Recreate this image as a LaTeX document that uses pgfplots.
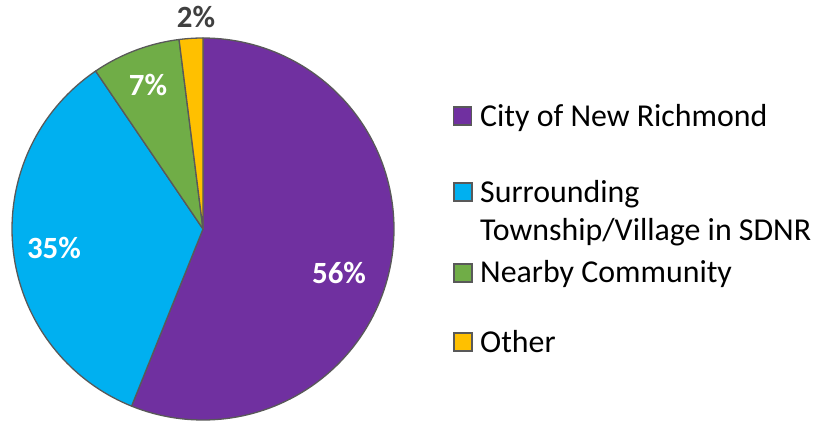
\documentclass[border=0pt]{standalone}
\usepackage{pgfplots}
\pgfplotsset{compat=1.18}
\usepackage{fontspec}
\setmainfont{Carlito}
\definecolor{cpurple}{HTML}{7030A0}
\definecolor{ccyan}{HTML}{00B0F0}
\definecolor{cgreen}{HTML}{70AD47}
\definecolor{cyellow}{HTML}{FFC000}
\definecolor{cborder}{HTML}{595959}
\definecolor{clabel}{HTML}{404040}
% pie values (percent)
\def\va{56.1}\def\vb{34.4}\def\vc{7.5}\def\vd{2.0}
\def\cx{203}\def\cy{229}\def\rr{191}
\pgfmathsetmacro\aA{90}
\pgfmathsetmacro\aB{\aA-3.6*\va}
\pgfmathsetmacro\aC{\aB-3.6*\vb}
\pgfmathsetmacro\aD{\aC-3.6*\vc}
\pgfmathsetmacro\aE{\aD-3.6*\vd}
\begin{document}
\begin{tikzpicture}
\begin{axis}[
  scale only axis, width=822bp, height=423bp,
  xmin=0, xmax=822, ymin=0, ymax=423, y dir=reverse,
  hide axis, clip=false,
  every axis plot/.append style={line width=1.3bp, draw=cborder, line join=round},
]
\path (rel axis cs:0,0) rectangle (rel axis cs:1,1);
\addplot[fill=cpurple, domain=\aB:\aA, samples=120, variable=\t]
  ({\cx+\rr*cos(\t)}, {\cy-\rr*sin(\t)}) -- (axis cs:\cx,\cy) -- cycle;
\addplot[fill=ccyan, domain=\aC:\aB, samples=80, variable=\t]
  ({\cx+\rr*cos(\t)}, {\cy-\rr*sin(\t)}) -- (axis cs:\cx,\cy) -- cycle;
\addplot[fill=cgreen, domain=\aD:\aC, samples=20, variable=\t]
  ({\cx+\rr*cos(\t)}, {\cy-\rr*sin(\t)}) -- (axis cs:\cx,\cy) -- cycle;
\addplot[fill=cyellow, domain=\aE:\aD, samples=8, variable=\t]
  ({\cx+\rr*cos(\t)}, {\cy-\rr*sin(\t)}) -- (axis cs:\cx,\cy) -- cycle;
% percentage labels
\begin{scope}[every node/.style={font=\fontsize{31}{35}\selectfont\bfseries, inner sep=0pt}]
\node[white] at (axis cs:339,273) {56\%};
\node[white] at (axis cs:54,248) {35\%};
\node[white] at (axis cs:148,85) {7\%};
\node[text=clabel] at (axis cs:196,17) {2\%};
\end{scope}
% legend
\begin{scope}[every node/.style={font=\fontsize{32}{38}\selectfont, inner sep=0pt, anchor=base west}]
\filldraw[fill=cpurple, draw=cborder, line width=1.5bp] (axis cs:453.5,107) rectangle (axis cs:471.5,125);
\node at (axis cs:480,126) {City of New Richmond};
\filldraw[fill=ccyan, draw=cborder, line width=1.5bp] (axis cs:454,183) rectangle (axis cs:472,201);
\node at (axis cs:480,202) {Surrounding};
\node at (axis cs:480,240) {Township/Village in SDNR};
\filldraw[fill=cgreen, draw=cborder, line width=1.5bp] (axis cs:454,264) rectangle (axis cs:472,282);
\node at (axis cs:480,282) {Nearby Community};
\filldraw[fill=cyellow, draw=cborder, line width=1.5bp] (axis cs:454,333) rectangle (axis cs:472,351);
\node at (axis cs:480,352) {Other};
\end{scope}
\end{axis}
\end{tikzpicture}
\end{document}
